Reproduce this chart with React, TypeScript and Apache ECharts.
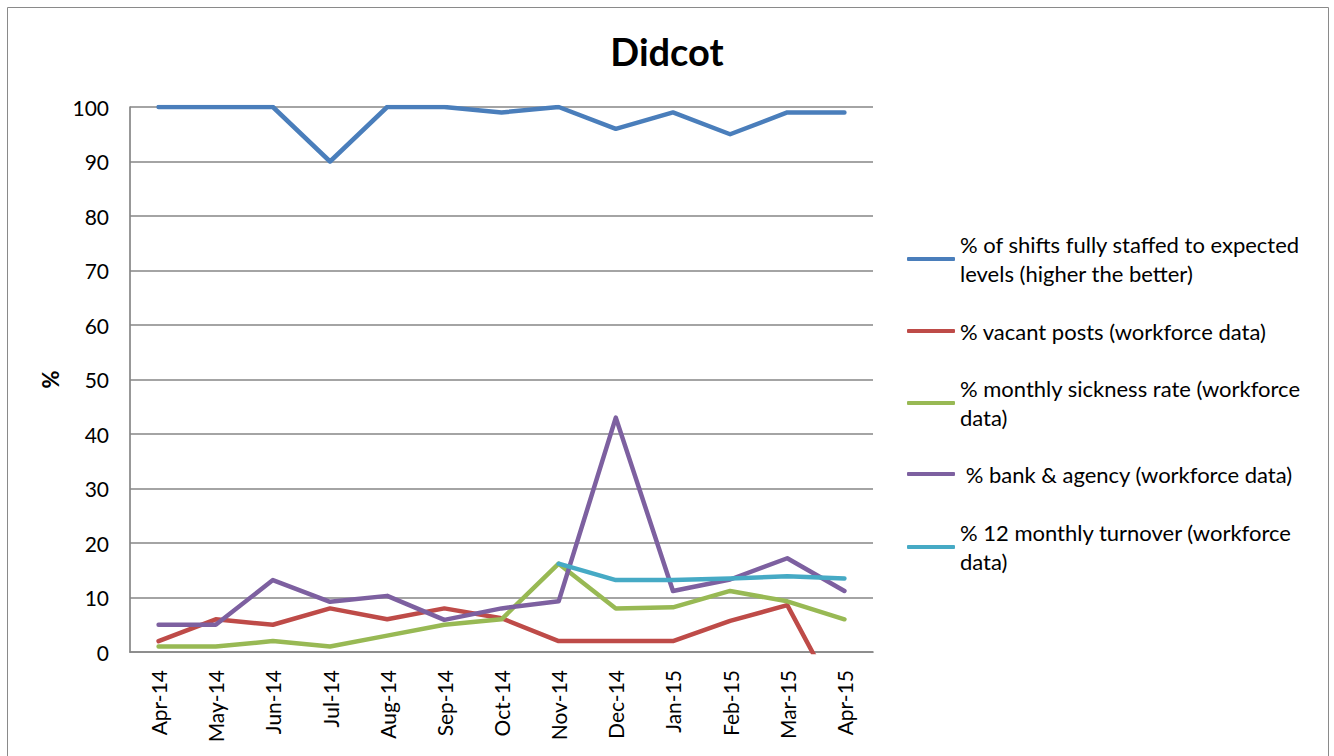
import React, { useEffect, useRef } from "react";
import * as echarts from "echarts";

const categories = ["Apr-14", "May-14", "Jun-14", "Jul-14", "Aug-14", "Sep-14", "Oct-14", "Nov-14", "Dec-14", "Jan-15", "Feb-15", "Mar-15", "Apr-15"];
const shiftsStaffed = [100, 100, 100, 90, 100, 100, 99, 100, 96, 99, 95, 99, 99];
const vacantPosts = [2, 6, 5, 8, 6, 8, 6.2, 2, 2, 2, 5.7, 8.6, -11];
const sicknessRate = [1, 1, 2, 1, 3, 5, 6, 16.2, 8, 8.2, 11.2, 9.3, 6];
const bankAgency = [5, 5, 13.2, 9.2, 10.3, 5.9, 8, 9.3, 43, 11.2, 13.3, 17.2, 11.2];
const turnover = [null, null, null, null, null, null, null, 16.2, 13.2, 13.2, 13.5, 13.9, 13.5];
const yTicks = { min: 0, max: 100, interval: 10 };

const seriesNames = [
  "% of shifts fully staffed to expected\nlevels (higher the better)",
  "% vacant posts (workforce data)",
  "% monthly sickness rate (workforce\ndata)",
  " % bank & agency (workforce data)",
  "% 12 monthly turnover (workforce\ndata)",
];
const seriesData = [shiftsStaffed, vacantPosts, sicknessRate, bankAgency, turnover];
const colors = ["#4A7EBB", "#BE4B48", "#98B954", "#7D60A0", "#46AAC5"];

const FONT = "Lato";
const LH = 29;

export default function App() {
  const ref = useRef<HTMLDivElement>(null);
  useEffect(() => {
    if (!ref.current) return;
    const chart = echarts.init(ref.current, undefined, { renderer: "svg" });
    const legendTops = [215.5, 316.5, 359.5, 459.5, 503.5];
    const twoLine = [true, false, true, false, true];
    chart.setOption({
      animation: false,
      backgroundColor: "#ffffff",
      textStyle: { fontFamily: FONT },
      title: {
        text: "Didcot",
        left: "center",
        top: 27,
        textStyle: { fontFamily: FONT, fontSize: 38, fontWeight: "bold", color: "#000" },
      },
      graphic: [
        {
          type: "rect",
          shape: { x: 7.5, y: 7.5, width: 1321, height: 760 },
          style: { fill: "none", stroke: "#8a8a8a", lineWidth: 1 },
          silent: true,
        },
      ],
      legend: seriesNames.map((name, i) => ({
        data: [name],
        orient: "vertical",
        left: 907,
        top: legendTops[i],
        padding: 0,
        icon: "roundRect",
        itemWidth: 48,
        itemHeight: 4,
        textStyle: {
          fontFamily: FONT,
          fontSize: 22,
          color: "#000",
          lineHeight: LH,
          padding: twoLine[i] ? [LH, 0, 0, 0] : 0,
        },
      })),
      grid: { left: 130, right: 461, top: 107, bottom: 104 },
      xAxis: {
        type: "category",
        data: categories,
        boundaryGap: true,
        axisLine: { lineStyle: { color: "#868686", width: 1.7 } },
        axisTick: { show: false },
        axisLabel: { rotate: 90, fontFamily: FONT, fontSize: 21, color: "#000", margin: 18, interval: 0 },
      },
      yAxis: {
        type: "value",
        min: yTicks.min,
        max: yTicks.max,
        interval: yTicks.interval,
        name: "%",
        nameLocation: "middle",
        nameRotate: 90,
        nameGap: 68,
        nameTextStyle: { fontFamily: FONT, fontSize: 22, fontWeight: "bold", color: "#000" },
        axisLine: { show: true, lineStyle: { color: "#868686", width: 1.7 } },
        axisTick: { show: false },
        splitLine: { lineStyle: { color: "#868686", width: 1.7 } },
        axisLabel: { fontFamily: FONT, fontSize: 21, color: "#000", margin: 21 },
      },
      series: seriesNames.map((name, i) => ({
        name,
        type: "line",
        data: seriesData[i],
        symbol: "none",
        clip: true,
        color: colors[i],
        lineStyle: { color: colors[i], width: 4.5, cap: "round", join: "round" },
        itemStyle: { color: colors[i] },
      })),
    });
    return () => chart.dispose();
  }, []);
  return (
    <div
      ref={ref}
      style={{ position: "absolute", left: 0, top: 0, width: 1334, height: 756 }}
    />
  );
}
